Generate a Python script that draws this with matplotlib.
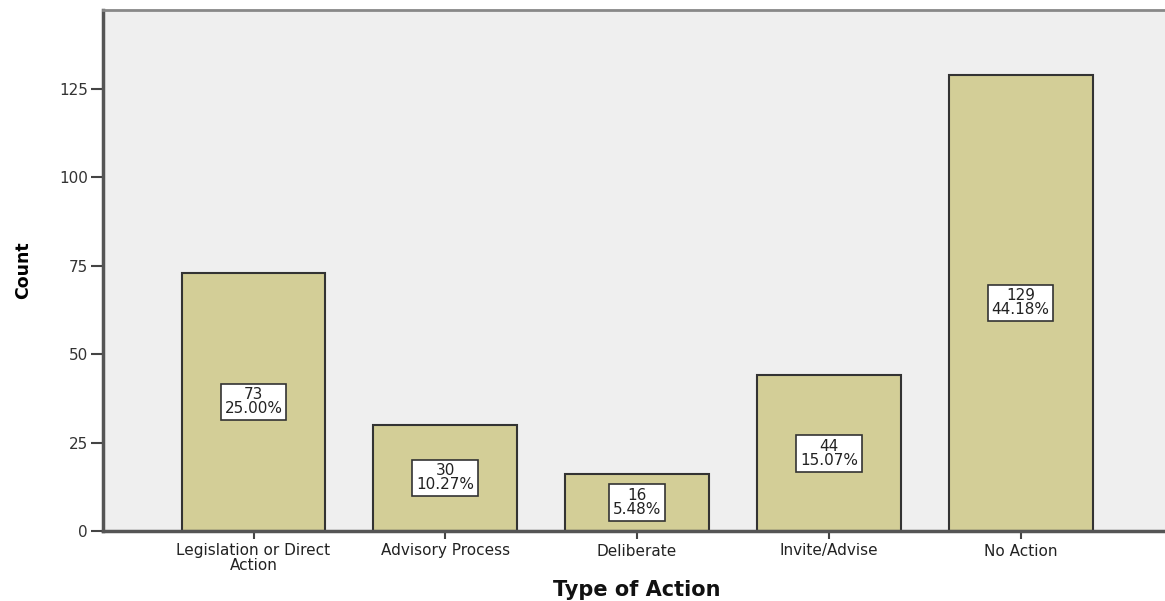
import matplotlib
matplotlib.use("Agg")
import matplotlib.pyplot as plt

categories = ["Legislation or Direct\nAction", "Advisory Process", "Deliberate", "Invite/Advise", "No Action"]
counts = [73, 30, 16, 44, 129]
percent_labels = ["25.00%", "10.27%", "5.48%", "15.07%", "44.18%"]
yticks = [0, 25, 50, 75, 100, 125]

fig = plt.figure(figsize=(11.65, 6.01), dpi=100)
ax = fig.add_axes([103/1165, 1 - 531/601, 1 - 103/1165 + 0.002, (531 - 10)/601])
ax.set_facecolor("#efefef")

x = list(range(len(categories)))
ax.bar(x, counts, width=0.75, color="#d3ce97", edgecolor="#333333", linewidth=1.5, zorder=2)

for xi, c, p in zip(x, counts, percent_labels):
    ax.text(xi, c / 2, f"{c}\n{p}", ha="center", va="center", fontsize=11,
            color="#222222", linespacing=0.92, zorder=3,
            bbox=dict(boxstyle="square,pad=0.25", facecolor="white", edgecolor="#333333", linewidth=1.2))

ax.set_xlim(-0.785, 4.765)
ax.set_ylim(0, 147.3)
ax.set_xticks(x)
ax.set_xticklabels(categories, fontsize=11, color="#222222", linespacing=0.92)
ax.set_yticks(yticks)
ax.set_yticklabels([str(v) for v in yticks], fontsize=11, color="#333333")
ax.tick_params(axis="y", direction="out", length=9, width=1.5, color="#444444", pad=2)
ax.tick_params(axis="x", direction="out", length=6, width=1.5, color="#444444", pad=3)

for side in ["left", "bottom"]:
    ax.spines[side].set_color("#555555")
    ax.spines[side].set_linewidth(2.5)
ax.spines["top"].set_color("#888888")
ax.spines["top"].set_linewidth(2)
ax.spines["right"].set_visible(False)

ax.set_ylabel("Count", fontsize=12.5, fontweight="bold", family=["Liberation Sans Narrow", "DejaVu Sans"], labelpad=19)
fig.text(637/1165, 1 - 590/601, "Type of Action", ha="center", va="center", fontsize=15, fontweight="bold", color="#111111")

fig.savefig("out.png", dpi=100)
